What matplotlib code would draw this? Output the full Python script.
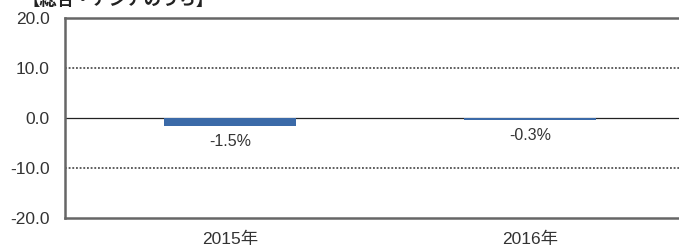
import matplotlib
matplotlib.use("Agg")
import matplotlib.pyplot as plt

plt.rcParams['font.family'] = ['Liberation Sans', 'Noto Sans CJK JP', 'DejaVu Sans']

# data
years = ["2015年", "2016年"]
values = [-1.5, -0.3]
value_labels = ["-1.5%", "-0.3%"]
yticks = [20.0, 10.0, 0.0, -10.0, -20.0]
title = "【総合・アジアのうち】"

fig = plt.figure(figsize=(6.79, 2.5), dpi=100)
ax = fig.add_axes([65 / 679, 32 / 250, 1 - 65 / 679 + 0.01, 200 / 250])

x = list(range(len(years)))
ax.bar(x, values, width=0.44, color='#3b6aa8', zorder=3)

ax.set_xlim(-0.55, 1.52)
ax.set_ylim(-20, 20)

ax.axhline(0, color='#222222', lw=0.9, zorder=2)
for g in (10, -10):
    ax.axhline(g, color='#333333', lw=1.1, ls=(0, (1.2, 1.2)), zorder=1)

for xi, v, lab in zip(x, values, value_labels):
    ax.text(xi, v - 1.6, lab, ha='center', va='top', fontsize=11.5, color='#333333')

ax.set_yticks(yticks)
ax.set_yticklabels([f"{t:.1f}" for t in yticks], fontsize=12.5, color='#333333')
ax.set_xticks(x)
ax.set_xticklabels(years, fontsize=12.5, color='#333333')
ax.tick_params(axis='y', length=0, pad=11)
ax.tick_params(axis='x', length=0, pad=10)

for side in ('left', 'top', 'bottom'):
    ax.spines[side].set_color('#666666')
    ax.spines[side].set_linewidth(1.8)
ax.spines['right'].set_visible(False)

fig.text(23 / 679, 1.0 + 1 / 250, title, ha='left', va='center',
         fontsize=12.5, fontweight='bold', color='#222222')

fig.savefig("out.png", dpi=100)
